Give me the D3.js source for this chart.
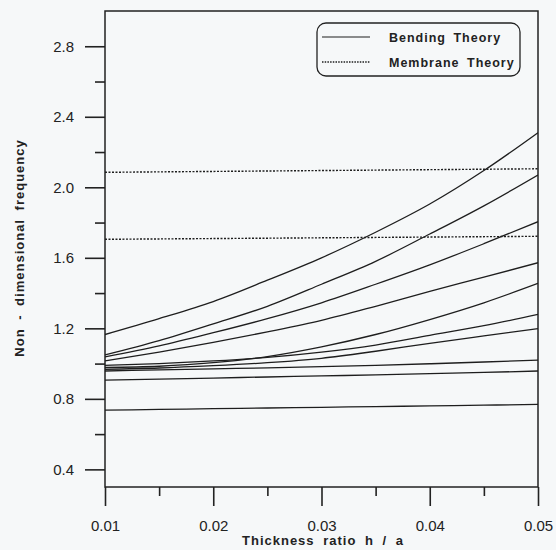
<!DOCTYPE html>
<html>
<head>
<meta charset="utf-8">
<script src="https://cdn.jsdelivr.net/npm/d3@7"></script>
<style>
  html, body { margin: 0; padding: 0; background: #f6f8f9; }
  svg { display: block; font-family: "Liberation Sans", Arial, sans-serif; }
  .tick-label { font-size: 15px; fill: #222; }
  .axis-title { font-size: 13px; font-weight: bold; fill: #222; letter-spacing: 1px; word-spacing: 4px; }
  .legend-text { font-size: 12.5px; font-weight: bold; fill: #222; letter-spacing: 1px; word-spacing: 3px; }
</style>
</head>
<body>
<svg width="556" height="550"></svg>
<script>
// Data
const thickness = [0.01, 0.015, 0.02, 0.025, 0.03, 0.035, 0.04, 0.045, 0.05];

const bend1  = [1.165, 1.255, 1.352, 1.473, 1.600, 1.745, 1.905, 2.095, 2.310];
const bend2  = [1.049, 1.130, 1.225, 1.325, 1.450, 1.580, 1.735, 1.895, 2.070];
const bend3  = [1.038, 1.100, 1.175, 1.255, 1.345, 1.450, 1.560, 1.680, 1.805];
const bend4  = [1.015, 1.065, 1.120, 1.180, 1.245, 1.325, 1.410, 1.490, 1.572];
const bend5  = [0.978, 0.985, 1.005, 1.040, 1.095, 1.165, 1.250, 1.345, 1.455];
const bend6  = [0.990, 1.000, 1.015, 1.035, 1.065, 1.105, 1.160, 1.215, 1.279];
const bend7  = [0.968, 0.975, 0.988, 1.005, 1.030, 1.070, 1.115, 1.157, 1.198];
const bend8  = [0.958, 0.964, 0.970, 0.976, 0.983, 0.990, 0.999, 1.009, 1.020];
const bend9  = [0.906, 0.912, 0.918, 0.924, 0.930, 0.936, 0.943, 0.950, 0.958];
const bend10 = [0.736, 0.740, 0.744, 0.748, 0.752, 0.756, 0.760, 0.764, 0.769];
const bendingCurves = [bend1, bend2, bend3, bend4, bend5, bend6, bend7, bend8, bend9, bend10];

const membraneX = [0.01, 0.05];
const membrane1 = [2.085, 2.105];
const membrane2 = [1.705, 1.722];
const membraneLines = [membrane1, membrane2];

const xMajor = [0.01, 0.02, 0.03, 0.04, 0.05];
const xMinor = [0.015, 0.025, 0.035, 0.045];
const yMajor = [0.4, 0.8, 1.2, 1.6, 2.0, 2.4, 2.8];
const yMinor = [0.6, 1.0, 1.4, 1.8, 2.2, 2.6];

const legendLabels = ["Bending Theory", "Membrane Theory"];

// Layout
const plotLeft = 105, plotRight = 538, plotTop = 11, plotBottom = 487;

const svg = d3.select("svg");

const xScale = d3.scaleLinear().domain([0.01, 0.05]).range([plotLeft, plotRight]);
const yScale = d3.scaleLinear().domain([0.3, 3.0]).range([plotBottom, plotTop]);

svg.append("defs").append("clipPath")
    .attr("id", "plot-clip")
  .append("rect")
    .attr("x", plotLeft).attr("y", plotTop)
    .attr("width", plotRight - plotLeft).attr("height", plotBottom - plotTop);

// Axes (major + minor ticks, outside)
const xAxisMajor = d3.axisBottom(xScale).tickValues(xMajor).tickSize(19).tickPadding(14)
    .tickFormat(d3.format(".2f"));
const xAxisMinor = d3.axisBottom(xScale).tickValues(xMinor).tickSize(9).tickFormat("");
const yAxisMajor = d3.axisLeft(yScale).tickValues(yMajor).tickSize(20).tickPadding(11)
    .tickFormat(d3.format(".1f"));
const yAxisMinor = d3.axisLeft(yScale).tickValues(yMinor).tickSize(10).tickFormat("");

function styleAxis(sel) {
  sel.attr("font-family", null).attr("font-size", null);
  sel.select(".domain").remove();
  sel.selectAll(".tick line").attr("stroke", "#222").attr("stroke-width", 1.6);
  sel.selectAll(".tick text").attr("class", "tick-label");
}

svg.append("g").attr("transform", "translate(0," + plotBottom + ")").call(xAxisMajor).call(styleAxis);
svg.append("g").attr("transform", "translate(0," + plotBottom + ")").call(xAxisMinor).call(styleAxis);
svg.append("g").attr("transform", "translate(" + plotLeft + ",0)").call(yAxisMajor).call(styleAxis);
svg.append("g").attr("transform", "translate(" + plotLeft + ",0)").call(yAxisMinor).call(styleAxis);

// Frame
svg.append("rect")
    .attr("x", plotLeft).attr("y", plotTop)
    .attr("width", plotRight - plotLeft).attr("height", plotBottom - plotTop)
    .attr("fill", "none")
    .attr("stroke", "#222")
    .attr("stroke-width", 1.5);

// Curves
const plot = svg.append("g").attr("clip-path", "url(#plot-clip)");

const bendLine = d3.line()
    .x(function(d, i) { return xScale(thickness[i]); })
    .y(function(d) { return yScale(d); })
    .curve(d3.curveMonotoneX);

plot.selectAll(".bending")
    .data(bendingCurves)
    .enter()
    .append("path")
    .attr("class", "bending")
    .attr("d", bendLine)
    .attr("fill", "none")
    .attr("stroke", "#1e1e1e")
    .attr("stroke-width", 1.3);

const memLine = d3.line()
    .x(function(d, i) { return xScale(membraneX[i]); })
    .y(function(d) { return yScale(d); });

plot.selectAll(".membrane")
    .data(membraneLines)
    .enter()
    .append("path")
    .attr("class", "membrane")
    .attr("d", memLine)
    .attr("fill", "none")
    .attr("stroke", "#1e1e1e")
    .attr("stroke-width", 1.4)
    .attr("stroke-dasharray", "2,1.5");

// Legend
const legend = svg.append("g");
legend.append("rect")
    .attr("x", 317).attr("y", 23)
    .attr("width", 203).attr("height", 53)
    .attr("rx", 9).attr("ry", 9)
    .attr("fill", "none")
    .attr("stroke", "#222")
    .attr("stroke-width", 1.3);

legendLabels.forEach(function(label, i) {
  const ly = 37 + i * 25;
  legend.append("line")
      .attr("x1", 322).attr("x2", 370)
      .attr("y1", ly).attr("y2", ly)
      .attr("stroke", "#1e1e1e")
      .attr("stroke-width", i === 0 ? 1.2 : 1.3)
      .attr("stroke-dasharray", i === 0 ? null : "1.5,1.2");
  legend.append("text")
      .attr("class", "legend-text")
      .attr("x", 389).attr("y", ly + 4.5)
      .text(label);
});

// Axis titles
svg.append("text")
    .attr("class", "axis-title")
    .attr("x", 323).attr("y", 545)
    .attr("text-anchor", "middle")
    .text("Thickness ratio h / a");

svg.append("text")
    .attr("class", "axis-title")
    .attr("transform", "translate(24,248) rotate(-90)")
    .attr("text-anchor", "middle")
    .text("Non - dimensional  frequency");
</script>
</body>
</html>
